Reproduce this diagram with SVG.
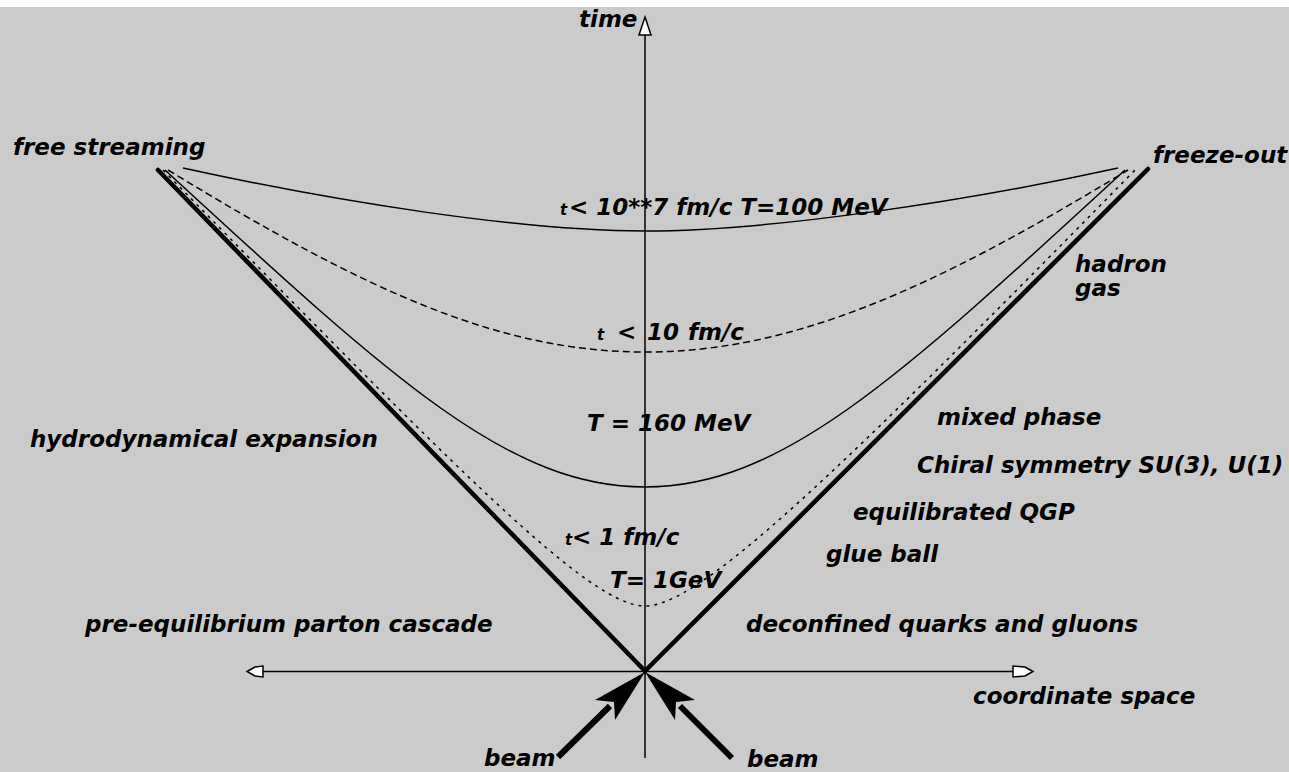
<svg xmlns="http://www.w3.org/2000/svg" width="1289" height="772" viewBox="0 0 1289 772">
<style>
text{font-family:"DejaVu Sans","Liberation Sans",sans-serif;font-weight:bold;font-style:oblique;font-size:23px;fill:#000}
.sm{font-size:15px}
.thin{fill:none;stroke:#000;stroke-width:1.5}
.dash{fill:none;stroke:#000;stroke-width:1.5;stroke-dasharray:7 4}
.dot{fill:none;stroke:#000;stroke-width:1.5;stroke-dasharray:3 5}
.cone{fill:none;stroke:#000;stroke-width:4.5;stroke-linecap:round}
.axis{fill:none;stroke:#000;stroke-width:1.5}
.open{fill:#fff;stroke:#000;stroke-width:1.5}
.beam{fill:none;stroke:#000;stroke-width:6}
</style>
<rect x="0" y="0" width="1289" height="772" fill="#cbcbcb"/>
<rect x="0" y="0" width="1289" height="7" fill="#ffffff"/>
<g id="connectors">
<line class="axis" x1="645" y1="35" x2="645" y2="758"/>
<polygon class="open" points="645,17 649,29 651,35 639,35 641,29"/>
<line class="axis" x1="263" y1="671.5" x2="1013" y2="671.5"/>
<polygon class="open" points="247,671.5 255,667 263,666 263,677 255,676"/>
<polygon class="open" points="1033,671.5 1025,667 1013,666 1013,677 1025,676"/>
<line class="cone" x1="158" y1="170" x2="645" y2="671"/>
<line class="cone" x1="645" y1="671" x2="1148" y2="169"/>
<path class="thin" d="M183,168 C333,201 520,231 645,231 C770,231 968,201 1118,168"/>
<path class="dash" d="M168,170 C368,292 500,352 645,352 C790,352 928,292 1128,170"/>
<path class="thin" d="M165,170 C395,382 510,487 645,487 C780,487 895,382 1125,170"/>
<path class="dot" d="M163,170 C463,476 590,606 645,606 C700,606 835,476 1135,170"/>
<line class="beam" x1="558" y1="757" x2="610" y2="706"/>
<polygon points="645,672 595,700 614,702 615,720" fill="#000"/>
<line class="beam" x1="732" y1="758" x2="680" y2="706"/>
<polygon points="645,672 695,700 676,702 675,720" fill="#000"/>
</g>
<g id="label-time"><text x="579" y="27">time</text></g>
<g id="label-free"><text x="13" y="155">free streaming</text></g>
<g id="label-freeze"><text x="1153" y="163">freeze-out</text></g>
<g id="label-c1"><text x="560" y="215"><tspan class="sm">t</tspan><tspan x="569">&lt; 10**7 fm/c T=100 MeV</tspan></text></g>
<g id="label-hadron"><text x="1075" y="272">hadron</text><text x="1075" y="296">gas</text></g>
<g id="label-c2"><text x="597" y="340"><tspan class="sm">t</tspan><tspan x="617">&lt;</tspan><tspan x="647">10</tspan><tspan x="688">fm/c</tspan></text></g>
<g id="label-mixed"><text x="937" y="425">mixed phase</text></g>
<g id="label-T160"><text x="587" y="431">T = 160 MeV</text></g>
<g id="label-hydro"><text x="30" y="447">hydrodynamical expansion</text></g>
<g id="label-chiral"><text x="917" y="473">Chiral symmetry SU(3), U(1)</text></g>
<g id="label-qgp"><text x="853" y="520">equilibrated QGP</text></g>
<g id="label-c3"><text x="565" y="545"><tspan class="sm">t</tspan><tspan x="572">&lt; 1 fm/c</tspan></text></g>
<g id="label-glue"><text x="826" y="562">glue ball</text></g>
<g id="label-T1"><text x="610" y="588">T= 1GeV</text></g>
<g id="label-pre"><text x="85" y="632">pre-equilibrium parton cascade</text></g>
<g id="label-deconf"><text x="746" y="632">deconfined quarks and gluons</text></g>
<g id="label-coord"><text x="973" y="704">coordinate space</text></g>
<g id="label-beam1"><text x="484" y="766">beam</text></g>
<g id="label-beam2"><text x="747" y="767">beam</text></g>
</svg>
